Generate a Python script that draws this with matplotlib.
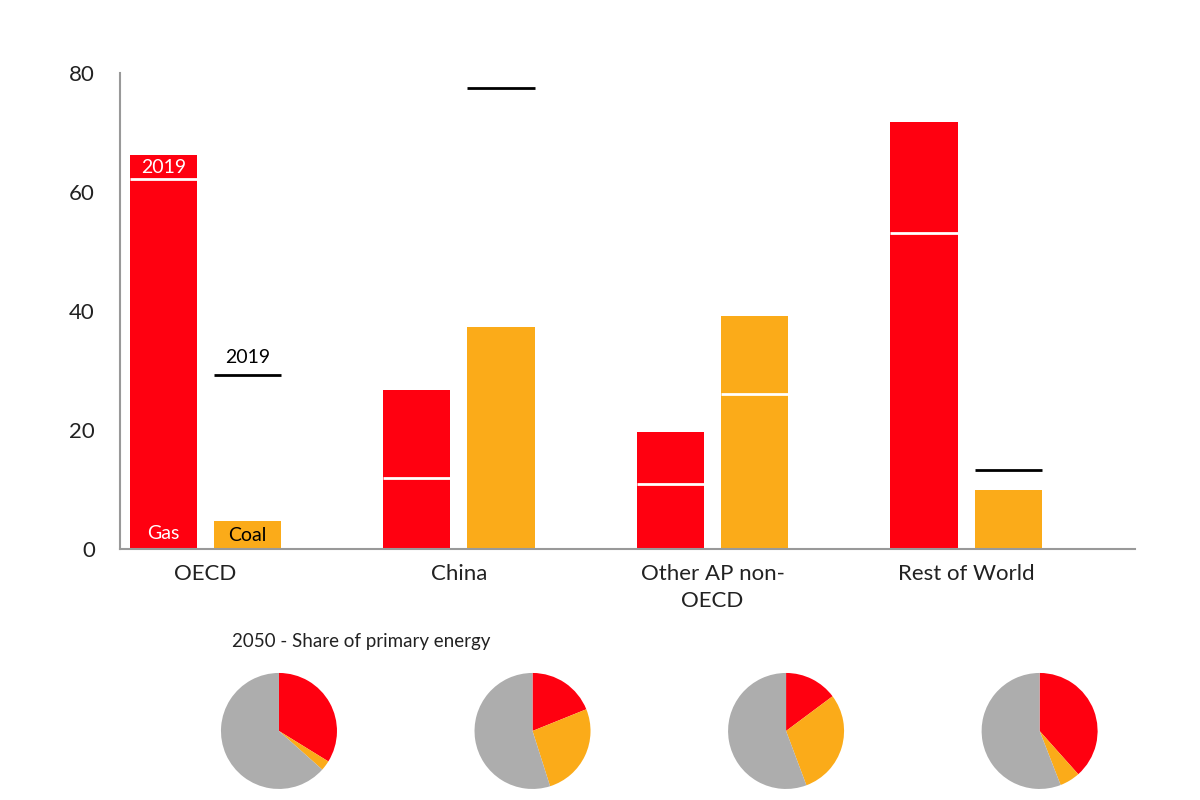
import numpy as np
import matplotlib.pyplot as plt

plt.rcParams['font.family'] = ['Lato', 'DejaVu Sans']

regions = ['OECD', 'China', 'Other AP non-\nOECD', 'Rest of World']
gas_2050 = [66.2, 26.7, 19.7, 71.8]
coal_2050 = [4.7, 37.3, 39.2, 9.9]
gas_2019 = [62.2, 11.9, 10.9, 53.1]
coal_2019 = [29.2, 77.5, 26.1, 13.3]

# 2050 share of primary energy: gas, coal, other
share_gas = [33.8, 18.9, 14.8, 38.4]
share_coal = [2.8, 26.2, 29.5, 5.7]
share_other = [63.4, 54.9, 55.7, 55.9]

red = '#ff0010'
orange = '#fbab19'
grey = '#adadad'

fig = plt.figure(figsize=(12, 8), dpi=100)
ax = fig.add_axes([0.1, 0.31375, 0.846, 0.595])

ind = np.arange(len(regions))
width = 0.265
gap = 0.067
xg = ind - (width + gap) / 2
xc = ind + (width + gap) / 2

ax.bar(xg, gas_2050, width, color=red)
ax.bar(xc, coal_2050, width, color=orange)

# 2019 markers: white inside the bar, black above it
for x, v19, v50 in zip(list(xg) + list(xc), gas_2019 + coal_2019,
                       gas_2050 + coal_2050):
    col = 'white' if v19 < v50 else 'black'
    ax.hlines(v19, x - width / 2, x + width / 2, color=col, lw=2)

ax.text(xg[0], (gas_2019[0] + gas_2050[0]) / 2, '2019', color='white',
        ha='center', va='center', fontsize=14)
ax.text(xc[0], coal_2019[0] + 1.5, '2019', color='black',
        ha='center', va='bottom', fontsize=14)
ax.text(xg[0], 1.2, 'Gas', color='white', ha='center', va='bottom',
        fontsize=14)
ax.text(xc[0], 0.8, 'Coal', color='black', ha='center', va='bottom',
        fontsize=14)

ax.set_xlim(-0.337, 3.667)
ax.set_ylim(0, 80)
ax.set_yticks([0, 20, 40, 60, 80])
ax.set_xticks(ind)
ax.set_xticklabels(regions, linespacing=1.45)
ax.tick_params(length=0, labelsize=16, colors='#222222')
ax.tick_params(axis='y', pad=18)
ax.tick_params(axis='x', pad=11)
for s in ['top', 'right']:
    ax.spines[s].set_visible(False)
for s in ['left', 'bottom']:
    ax.spines[s].set_color('#999999')
    ax.spines[s].set_linewidth(1.5)

fig.text(0.193, 0.198, '2050 - Share of primary energy', fontsize=13.5,
         color='#222222', va='center')

# pies under each group
size_w = 116 / 1200
size_h = 116 / 800
for i in range(len(regions)):
    px, _ = fig.transFigure.inverted().transform(
        ax.transData.transform((ind[i] + 0.29, 0)))
    pax = fig.add_axes([px - size_w / 2, 0.0138, size_w, size_h])
    pax.pie([share_gas[i], share_coal[i], share_other[i]],
            colors=[red, orange, grey], startangle=90, counterclock=False)
    pax.set_xlim(-1, 1)
    pax.set_ylim(-1, 1)
    pax.set_aspect('equal')

fig.savefig('out.png', dpi=100)
